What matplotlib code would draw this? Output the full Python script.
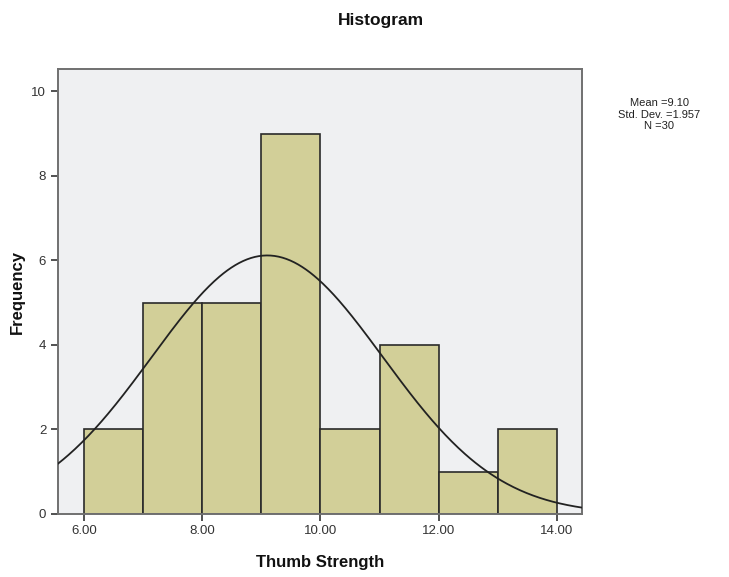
import numpy as np
import matplotlib
matplotlib.use("Agg")
import matplotlib.pyplot as plt

plt.rcParams['font.family'] = ['Liberation Sans', 'DejaVu Sans']

bin_edges = [6, 7, 8, 9, 10, 11, 12, 13, 14]
frequencies = [2, 5, 5, 9, 2, 4, 1, 2]
mean_val = 9.10
std_val = 1.957
n_val = 30
x_ticks = [6, 8, 10, 12, 14]
x_tick_labels = ["6.00", "8.00", "10.00", "12.00", "14.00"]
y_ticks = [0, 2, 4, 6, 8, 10]

fig = plt.figure(figsize=(7.29, 5.77), dpi=100)
ax = fig.add_axes([0.0796, 0.1092, 0.7184, 0.7708])
ax.set_facecolor('#EFF0F2')

lefts = bin_edges[:-1]
widths = np.diff(bin_edges)
ax.bar(lefts, frequencies, width=widths, align='edge', color='#D2CF98',
       edgecolor='#2a2a2a', linewidth=1.2, zorder=2)

xs = np.linspace(5.56, 14.42, 400)
bw = 1.0
ys = n_val * bw / (std_val * np.sqrt(2 * np.pi)) * np.exp(-0.5 * ((xs - mean_val) / std_val) ** 2)
ax.plot(xs, ys, color='#222222', linewidth=1.3, zorder=3)

ax.set_xlim(5.56, 14.42)
ax.set_ylim(0, 10.52)
ax.set_xticks(x_ticks)
ax.set_xticklabels(x_tick_labels)
ax.set_yticks(y_ticks)
ax.tick_params(axis='both', direction='out', length=5, width=1.2, color='#333333',
               labelsize=9.5, labelcolor='#333333')
ax.tick_params(axis='x', pad=3)
for s in ax.spines.values():
    s.set_color('#707070')
    s.set_linewidth(1.4)

ax.set_xlabel('Thumb Strength', fontsize=12, fontweight='bold', color='#111111')
ax.set_ylabel('Frequency', fontsize=12, fontweight='bold', color='#111111')
ax.xaxis.set_label_coords(0.5, -0.092)
ax.yaxis.set_label_coords(-0.063, 0.5)

fig.text(0.523, 0.965, 'Histogram', ha='center', va='center', fontsize=12.5,
         fontweight='bold', color='#111111')
fig.text(0.904, 0.801, 'Mean =9.10\nStd. Dev. =1.957\nN =30', ha='center', va='center',
         fontsize=8, linespacing=1.2, color='#222222')

fig.savefig('out.png', dpi=100)
